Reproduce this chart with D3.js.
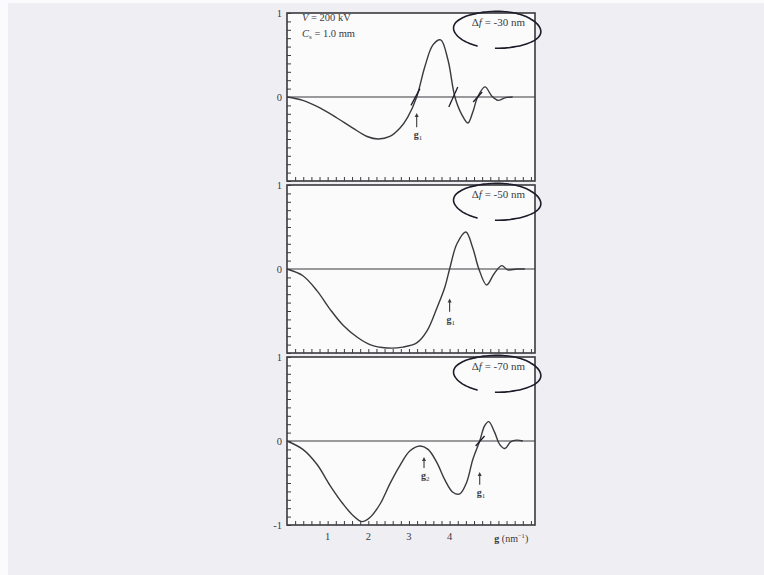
<!DOCTYPE html>
<html>
<head>
<meta charset="utf-8">
<script src="https://cdn.jsdelivr.net/npm/d3@7"></script>
<style>
  html, body { margin: 0; padding: 0; background: #efeff3; }
  svg { display: block; font-family: "Liberation Serif", "DejaVu Serif", serif; }
</style>
</head>
<body>
<svg id="chart"></svg>
<script>
// values (CTF vs spatial frequency g)
const defocusLabels = ['\u0394f = -30 nm', '\u0394f = -50 nm', '\u0394f = -70 nm'];

const g30 = [0, 0.39, 0.81, 1.23, 1.62, 1.97, 2.24, 2.53, 2.78, 2.97, 3.19, 3.39, 3.59, 3.78, 3.96, 4.13, 4.30, 4.45, 4.57, 4.69, 4.87, 5.04, 5.19, 5.36, 5.55];
const ctf30 = [0, -0.04, -0.13, -0.25, -0.37, -0.47, -0.50, -0.47, -0.37, -0.24, 0, 0.36, 0.62, 0.68, 0.44, 0, -0.21, -0.31, -0.18, 0, 0.12, 0.01, -0.04, -0.01, 0];

const g50 = [0, 0.39, 0.74, 1.06, 1.38, 1.72, 2.04, 2.46, 2.85, 3.19, 3.44, 3.69, 3.88, 4.00, 4.18, 4.40, 4.57, 4.72, 4.91, 5.09, 5.28, 5.43, 5.65, 5.85];
const ctf50 = [0, -0.08, -0.26, -0.48, -0.67, -0.81, -0.90, -0.94, -0.93, -0.88, -0.74, -0.46, -0.22, 0, 0.30, 0.44, 0.25, 0, -0.19, -0.06, 0.04, -0.01, 0, 0];

const g70 = [0, 0.39, 0.74, 1.06, 1.38, 1.63, 1.84, 2.04, 2.29, 2.53, 2.78, 3.02, 3.27, 3.47, 3.69, 3.88, 4.08, 4.25, 4.42, 4.57, 4.74, 4.86, 4.96, 5.11, 5.23, 5.36, 5.50, 5.65, 5.80];
const ctf70 = [0, -0.10, -0.28, -0.53, -0.75, -0.89, -0.96, -0.91, -0.75, -0.51, -0.29, -0.12, -0.06, -0.10, -0.26, -0.46, -0.61, -0.63, -0.49, -0.22, 0, 0.18, 0.23, 0.10, -0.04, -0.09, -0.01, 0.01, 0];

const xTickLabels = [1, 2, 3, 4];

const series = [
  { g: g30, v: ctf30, label: defocusLabels[0] },
  { g: g50, v: ctf50, label: defocusLabels[1] },
  { g: g70, v: ctf70, label: defocusLabels[2] }
];

const W = 764, H = 575;
const ink = '#3a3a3e';
const pen = '#1c1c2a';
const svg = d3.select('#chart').attr('width', W).attr('height', H);
svg.append('rect').attr('width', W).attr('height', H).attr('fill', '#efeff3');
// white scan strips at top and left
svg.append('rect').attr('x', 0).attr('y', 0).attr('width', W).attr('height', 3).attr('fill', '#fbfbfd');
svg.append('rect').attr('x', 0).attr('y', 0).attr('width', 8).attr('height', H).attr('fill', '#fbfbfd');

const x = d3.scaleLinear().domain([0, 6.1]).range([287, 535]);
const panelH = 168, panelGap = 4, top0 = 13;

series.forEach((s, i) => {
  const top = top0 + i * (panelH + panelGap);
  const y = d3.scaleLinear().domain([-1, 1]).range([top + panelH, top]);
  const g = svg.append('g');

  // frame
  g.append('rect')
    .attr('x', x(0)).attr('y', top)
    .attr('width', x(6.1) - x(0)).attr('height', panelH)
    .attr('fill', '#fbfbfc').attr('stroke', ink).attr('stroke-width', 1.6);

  // inner ticks, bottom
  const xAxis = d3.axisBottom(x)
    .tickValues(d3.range(0.2, 6.05, 0.2))
    .tickSizeInner(-4).tickSizeOuter(0).tickFormat('');
  const gx = g.append('g').attr('transform', 'translate(0,' + (top + panelH) + ')').call(xAxis);
  gx.select('.domain').remove();
  gx.selectAll('line').attr('stroke', ink).attr('stroke-width', 1);

  // inner ticks, left
  const yAxis = d3.axisLeft(y)
    .tickValues(d3.range(-0.9, 1.0, 0.1).concat([1, -1]))
    .tickSizeInner(-4).tickSizeOuter(0).tickPadding(5)
    .tickFormat(d => {
      const r = Math.round(d * 10) / 10;
      if (r === 1) return '1';
      if (r === 0) return '0';
      if (r === -1 && i === 2) return '-1';
      return '';
    });
  const gy = g.append('g').attr('transform', 'translate(' + x(0) + ',0)').call(yAxis);
  gy.select('.domain').remove();
  gy.selectAll('line').attr('stroke', ink).attr('stroke-width', 1);
  gy.selectAll('text').attr('font-size', 10.5).attr('fill', ink).attr('font-family', 'Liberation Serif');

  // zero line
  g.append('line')
    .attr('x1', x(0)).attr('x2', x(6.1))
    .attr('y1', y(0)).attr('y2', y(0))
    .attr('stroke', ink).attr('stroke-width', 1.1);

  // curve
  const line = d3.line()
    .x((d, k) => x(s.g[k]))
    .y(d => y(d))
    .curve(d3.curveCatmullRom.alpha(0.5));
  g.append('path')
    .datum(s.v)
    .attr('d', line)
    .attr('fill', 'none')
    .attr('stroke', ink)
    .attr('stroke-width', 1.4);

  // defocus label
  const lt = g.append('text')
    .attr('x', x(5.2)).attr('y', y(0.84))
    .attr('text-anchor', 'middle')
    .attr('font-size', 11).attr('fill', ink);
  lt.append('tspan').text('\u0394');
  lt.append('tspan').attr('font-style', 'italic').text('f');
  lt.append('tspan').text(s.label.slice(2));

  // hand-drawn circle round the label
  const cx = x(5.17), cy = y(0.8), rx = x(1.07) - x(0), ry = y(0) - y(0.22);
  const arc = d3.range(118, 456, 5).map(a => {
    const t = a * Math.PI / 180;
    return [cx + rx * Math.cos(t) * (1 + 0.05 * Math.sin(2 * t)), cy + ry * Math.sin(t)];
  });
  g.append('path')
    .attr('d', d3.line().curve(d3.curveBasis)(arc))
    .attr('fill', 'none').attr('stroke', pen).attr('stroke-width', 1.6);
});

// first-panel parameters
const y1 = d3.scaleLinear().domain([-1, 1]).range([top0 + panelH, top0]);
const p1 = svg.append('g').attr('fill', ink).attr('font-size', 10.5);
p1.append('text').attr('x', x(0.37)).attr('y', y1(0.9))
  .html('<tspan font-style="italic">V</tspan> = 200 kV');
p1.append('text').attr('x', x(0.37)).attr('y', y1(0.72))
  .html('<tspan font-style="italic">C</tspan><tspan font-size="7" dy="2">s</tspan><tspan dy="-2"> = 1.0 mm</tspan>');

// arrows marking zeros g1, g2
const arrows = [
  { panel: 0, g: 3.19, tip: -0.19, tail: -0.36, label: '1' },
  { panel: 1, g: 4.00, tip: -0.35, tail: -0.51, label: '1' },
  { panel: 2, g: 3.37, tip: -0.19, tail: -0.32, label: '2' },
  { panel: 2, g: 4.74, tip: -0.37, tail: -0.52, label: '1' }
];
arrows.forEach(a => {
  const top = top0 + a.panel * (panelH + panelGap);
  const y = d3.scaleLinear().domain([-1, 1]).range([top + panelH, top]);
  const ax = x(a.g);
  svg.append('line').attr('x1', ax).attr('x2', ax)
    .attr('y1', y(a.tip) + 3).attr('y2', y(a.tail))
    .attr('stroke', ink).attr('stroke-width', 1.1);
  svg.append('path')
    .attr('d', 'M' + ax + ',' + y(a.tip) + 'l-2,4l4,0z')
    .attr('fill', ink);
  const t = svg.append('text').attr('x', ax - 3).attr('y', y(a.tail) + 11)
    .attr('fill', ink).attr('font-size', 10);
  t.append('tspan').attr('font-weight', 'bold').text('g');
  t.append('tspan').attr('font-size', 7).attr('dy', 2).text(a.label);
});

// pen marks at zero crossings
const marks = [
  { panel: 0, g: 3.15, dv: 0.1 }, { panel: 0, g: 4.08, dv: 0.12 },
  { panel: 0, g: 4.68, dv: 0.06 }, { panel: 2, g: 4.74, dv: 0.06 }
];
marks.forEach(m => {
  const top = top0 + m.panel * (panelH + panelGap);
  const y = d3.scaleLinear().domain([-1, 1]).range([top + panelH, top]);
  svg.append('line')
    .attr('x1', x(m.g - 0.1)).attr('y1', y(-m.dv))
    .attr('x2', x(m.g + 0.12)).attr('y2', y(m.dv))
    .attr('stroke', pen).attr('stroke-width', 1.3);
});

// x tick labels under the last panel
const bottom = top0 + 2 * (panelH + panelGap) + panelH;
svg.append('g').selectAll('text').data(xTickLabels).join('text')
  .attr('x', d => x(d)).attr('y', bottom + 15)
  .attr('text-anchor', 'middle').attr('font-size', 10.5).attr('fill', ink)
  .text(d => d);

const xl = svg.append('text').attr('x', x(5.1)).attr('y', bottom + 17)
  .attr('font-size', 10).attr('fill', ink);
xl.append('tspan').attr('font-weight', 'bold').text('g');
xl.append('tspan').text(' (nm');
xl.append('tspan').attr('font-size', 6.5).attr('dy', -4).text('\u22121');
xl.append('tspan').attr('dy', 4).text(')');
</script>
</body>
</html>
